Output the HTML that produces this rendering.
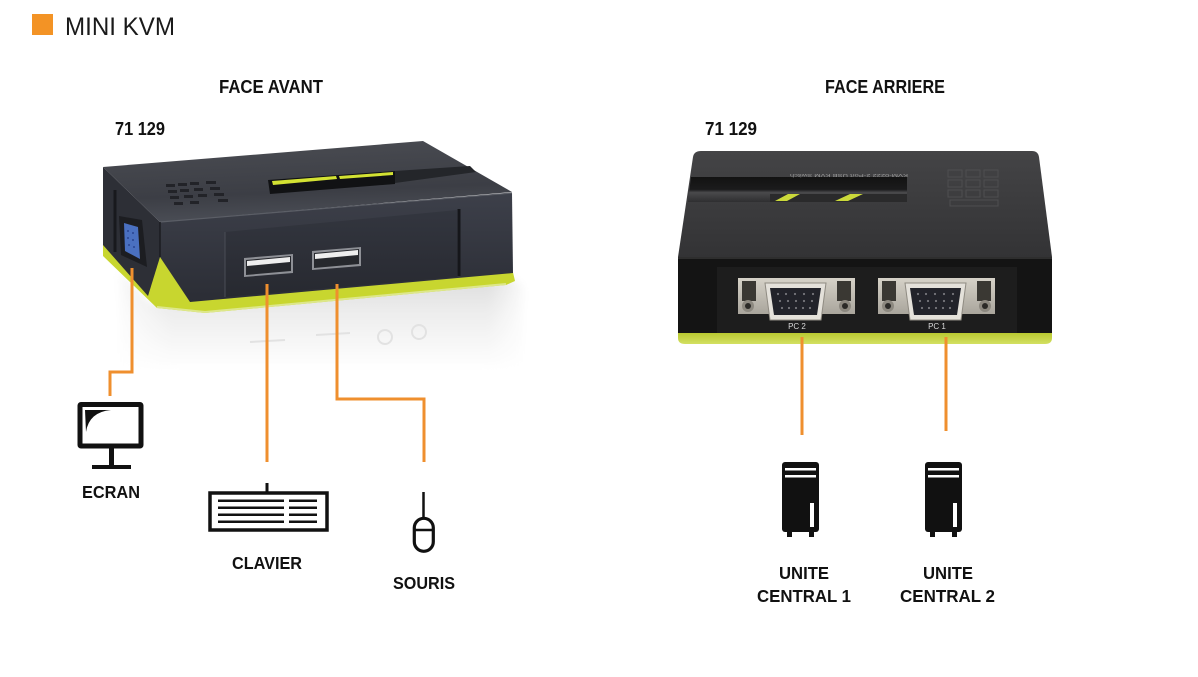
<!DOCTYPE html>
<html><head><meta charset="utf-8">
<style>
html,body{margin:0;padding:0;background:#fff;}
svg{display:block;}
text{font-family:"Liberation Sans",sans-serif;}
</style></head><body>
<svg width="1198" height="677" viewBox="0 0 1198 677" xmlns="http://www.w3.org/2000/svg">
<defs>
  <linearGradient id="refl" x1="0" y1="0" x2="0" y2="1">
    <stop offset="0" stop-color="#d9d9d9"/>
    <stop offset="0.45" stop-color="#eeeeee"/>
    <stop offset="1" stop-color="#ffffff"/>
  </linearGradient>
  <linearGradient id="reflH" x1="0" y1="0" x2="1" y2="0">
    <stop offset="0" stop-color="#fff" stop-opacity="1"/>
    <stop offset="0.15" stop-color="#fff" stop-opacity="0"/>
    <stop offset="0.9" stop-color="#fff" stop-opacity="0"/>
    <stop offset="1" stop-color="#fff" stop-opacity="1"/>
  </linearGradient>
  <filter id="blur" x="-10%" y="-10%" width="120%" height="120%">
    <feGaussianBlur stdDeviation="4"/>
  </filter>
  <linearGradient id="topL" x1="0" y1="0" x2="0.2" y2="1">
    <stop offset="0" stop-color="#4b4d53"/>
    <stop offset="0.7" stop-color="#3c3e45"/>
    <stop offset="1" stop-color="#4a4d55"/>
  </linearGradient>
  <linearGradient id="frontL" x1="0" y1="0" x2="0" y2="1">
    <stop offset="0" stop-color="#3d404a"/>
    <stop offset="1" stop-color="#2b2d35"/>
  </linearGradient>
  <linearGradient id="panelL" x1="0" y1="0" x2="0" y2="1">
    <stop offset="0" stop-color="#33363f"/>
    <stop offset="1" stop-color="#272930"/>
  </linearGradient>
  <linearGradient id="topR" x1="0" y1="0" x2="0" y2="1">
    <stop offset="0" stop-color="#444446"/>
    <stop offset="1" stop-color="#333335"/>
  </linearGradient>
  <linearGradient id="bandR" x1="0" y1="0" x2="0" y2="1">
    <stop offset="0" stop-color="#121212"/>
    <stop offset="0.5" stop-color="#1b1b1c"/>
    <stop offset="0.62" stop-color="#4a4a4c"/>
    <stop offset="1" stop-color="#2e2e30"/>
  </linearGradient>
  <linearGradient id="plate" x1="0" y1="0" x2="0" y2="1">
    <stop offset="0" stop-color="#d6d2c8"/>
    <stop offset="1" stop-color="#a9a59c"/>
  </linearGradient>
  <linearGradient id="greenR" x1="0" y1="0" x2="0" y2="1">
    <stop offset="0" stop-color="#b9c930"/>
    <stop offset="1" stop-color="#d3e062"/>
  </linearGradient>
</defs>

<rect width="1198" height="677" fill="#fff"/>

<!-- HEADER -->
<rect x="32" y="14" width="21" height="21" fill="#f39325"/>
<text x="65" y="35" font-size="25" textLength="110" lengthAdjust="spacingAndGlyphs" fill="#1a1a1a">MINI KVM</text>

<g font-weight="bold" fill="#111" font-size="18">
  <text x="219" y="93" textLength="104" lengthAdjust="spacingAndGlyphs">FACE AVANT</text>
  <text x="825" y="93" textLength="120" lengthAdjust="spacingAndGlyphs">FACE ARRIERE</text>
  <text x="115" y="135" textLength="50" lengthAdjust="spacingAndGlyphs">71 129</text>
  <text x="705" y="135" textLength="52" lengthAdjust="spacingAndGlyphs">71 129</text>
</g>

<!-- LEFT DEVICE -->
<g filter="url(#blur)">
  <polygon points="120,270 150,303 512,279 524,286 524,370 120,370" fill="url(#refl)"/>
  <rect x="110" y="260" width="420" height="115" fill="url(#reflH)"/>
</g>
<g fill="none" stroke="#e2e2e2" stroke-width="2">
  <circle cx="385" cy="337" r="7"/>
  <circle cx="419" cy="332" r="7"/>
  <line x1="250" y1="342" x2="285" y2="340"/>
  <line x1="316" y1="335" x2="350" y2="333"/>
</g>
<polygon fill="#c8d62f" points="103,240 160,250 512,268 515,281 506,285 205,313 157,308 103,256"/>
<polyline points="157,307 205,312 506,284" fill="none" stroke="#dde78a" stroke-width="2"/>
<!-- side face -->
<polygon fill="#2d2f36" points="103,167 160,222 160,257 148,296 103,245"/>
<line x1="115" y1="190" x2="115" y2="252" stroke="#18191d" stroke-width="3"/>
<!-- VGA on side -->
<polygon fill="#1c1d21" points="119,216 142,220 147,267 121,255"/>
<polygon fill="#4a70c0" points="124,223 138,227 140,259 125,251"/>
<g fill="#2a4590">
  <circle cx="128" cy="231" r="1"/><circle cx="133" cy="233" r="1"/>
  <circle cx="128" cy="238" r="1"/><circle cx="133" cy="240" r="1"/>
  <circle cx="129" cy="245" r="1"/><circle cx="134" cy="247" r="1"/>
</g>
<!-- front face -->
<polygon fill="url(#frontL)" points="160,222 512,193 513,273 190,302 160,257"/>
<!-- top face -->
<polygon fill="url(#topL)" points="103,167 423,141 512,192 160,222"/>
<line x1="160" y1="222" x2="512" y2="193" stroke="#5b5e66" stroke-width="1.2"/>
<line x1="160" y1="222" x2="160" y2="257" stroke="#1b1c20" stroke-width="1.5"/>
<!-- recessed panel -->
<polygon fill="url(#panelL)" points="225,232 457,210 457,277 225,297"/>
<line x1="225" y1="232" x2="225" y2="297" stroke="#4a4d56" stroke-width="1"/>
<line x1="459" y1="209" x2="459" y2="276" stroke="#15161a" stroke-width="3"/>
<!-- USB ports -->
<g>
  <polygon fill="#8e9096" points="244,258 293,254 293,273 244,277"/>
  <polygon fill="#26282d" points="246,260 291,256 291,271 246,275"/>
  <polygon fill="#eeeeee" points="247,261 290,257 290,262 247,266"/>
  <polygon fill="#8e9096" points="312,251 361,247 361,266 312,270"/>
  <polygon fill="#26282d" points="314,253 359,249 359,264 314,268"/>
  <polygon fill="#eeeeee" points="315,254 358,250 358,255 315,259"/>
</g>
<!-- top slot -->
<polygon fill="#111214" points="268,180 395,171 395,184 270,194"/>
<polygon fill="#d3e233" points="272,181 336,176 337,179 273,185"/>
<polygon fill="#d3e233" points="339,176 393,172 393,175 340,179"/>
<polygon fill="#24262a" points="395,171 470,166 476,172 395,183"/>
<!-- grille -->
<g fill="#222328">
  <rect x="166" y="184" width="9" height="3"/><rect x="178" y="183" width="9" height="3"/><rect x="190" y="182" width="9" height="3"/><rect x="206" y="181" width="10" height="3"/>
  <rect x="168" y="190" width="9" height="3"/><rect x="180" y="189" width="9" height="3"/><rect x="194" y="188" width="9" height="3"/><rect x="210" y="187" width="10" height="3"/>
  <rect x="170" y="196" width="9" height="3"/><rect x="184" y="195" width="9" height="3"/><rect x="198" y="194" width="9" height="3"/><rect x="214" y="193" width="10" height="3"/>
  <rect x="174" y="202" width="9" height="3"/><rect x="190" y="201" width="9" height="3"/><rect x="218" y="199" width="10" height="3"/>
</g>

<!-- RIGHT DEVICE -->
<path fill="url(#topR)" d="M701,151 H1032 Q1038,151 1039,157 L1052,257 H678 L693,157 Q694,151 701,151 Z"/>
<polygon fill="url(#bandR)" points="691,177 907,177 907,202 688,202"/>
<polygon fill="#2a2a2b" points="770,194 907,194 907,202 770,202"/>
<polygon fill="#cbd93a" points="775,201 788,194 800,194 787,201"/>
<polygon fill="#cbd93a" points="835,201 850,194 863,194 848,201"/>
<text transform="translate(908,174) rotate(180)" font-size="4.5" fill="#9a9a9a" textLength="118" lengthAdjust="spacingAndGlyphs">KVM-0222 2-Port USB KVM Switch</text>
<g fill="none" stroke="#4e4e50" stroke-width="1">
  <rect x="948" y="170" width="14" height="7"/><rect x="966" y="170" width="14" height="7"/><rect x="984" y="170" width="14" height="7"/>
  <rect x="948" y="180" width="14" height="7"/><rect x="966" y="180" width="14" height="7"/><rect x="984" y="180" width="14" height="7"/>
  <rect x="948" y="190" width="14" height="7"/><rect x="966" y="190" width="14" height="7"/><rect x="984" y="190" width="14" height="7"/>
  <rect x="950" y="200" width="48" height="6"/>
</g>
<!-- front face -->
<rect x="678" y="257" width="374" height="78" fill="#141414"/>
<line x1="678" y1="258" x2="1052" y2="258" stroke="#2e2e2e" stroke-width="2"/>
<rect x="717" y="267" width="300" height="67" fill="#1d1d1d"/>
<!-- green base -->
<path fill="url(#greenR)" d="M678,333 H1052 V338 Q1052,344 1045,344 H685 Q678,344 678,338 Z"/>
<!-- VGA ports -->
<g>
  <rect x="738" y="278" width="117" height="36" fill="url(#plate)"/>
  <rect x="742" y="281" width="14" height="20" fill="#3a3833"/>
  <rect x="837" y="281" width="14" height="20" fill="#3a3833"/>
  <circle cx="748" cy="306" r="6" fill="#8c887f"/><circle cx="748" cy="306" r="3" fill="#2b2a27"/>
  <circle cx="845" cy="306" r="6" fill="#8c887f"/><circle cx="845" cy="306" r="3" fill="#2b2a27"/>
  <path d="M765,283 H826 L821,320 H770 Z" fill="#e4e1da" stroke="#8f8b82" stroke-width="1"/>
  <path d="M770,288 H821 L817,315 H774 Z" fill="#22232a"/>
  <g fill="#77777c">
    <circle cx="778" cy="294" r="1.1"/><circle cx="786" cy="294" r="1.1"/><circle cx="795" cy="294" r="1.1"/><circle cx="804" cy="294" r="1.1"/><circle cx="813" cy="294" r="1.1"/>
    <circle cx="780" cy="301" r="1.1"/><circle cx="788" cy="301" r="1.1"/><circle cx="796" cy="301" r="1.1"/><circle cx="804" cy="301" r="1.1"/><circle cx="812" cy="301" r="1.1"/>
    <circle cx="782" cy="308" r="1.1"/><circle cx="789" cy="308" r="1.1"/><circle cx="796" cy="308" r="1.1"/><circle cx="803" cy="308" r="1.1"/><circle cx="810" cy="308" r="1.1"/>
  </g>
  <text x="797" y="329" font-size="8" fill="#d8d8d8" text-anchor="middle">PC 2</text>
</g>
<g transform="translate(140,0)">
  <rect x="738" y="278" width="117" height="36" fill="url(#plate)"/>
  <rect x="742" y="281" width="14" height="20" fill="#3a3833"/>
  <rect x="837" y="281" width="14" height="20" fill="#3a3833"/>
  <circle cx="748" cy="306" r="6" fill="#8c887f"/><circle cx="748" cy="306" r="3" fill="#2b2a27"/>
  <circle cx="845" cy="306" r="6" fill="#8c887f"/><circle cx="845" cy="306" r="3" fill="#2b2a27"/>
  <path d="M765,283 H826 L821,320 H770 Z" fill="#e4e1da" stroke="#8f8b82" stroke-width="1"/>
  <path d="M770,288 H821 L817,315 H774 Z" fill="#22232a"/>
  <g fill="#77777c">
    <circle cx="778" cy="294" r="1.1"/><circle cx="786" cy="294" r="1.1"/><circle cx="795" cy="294" r="1.1"/><circle cx="804" cy="294" r="1.1"/><circle cx="813" cy="294" r="1.1"/>
    <circle cx="780" cy="301" r="1.1"/><circle cx="788" cy="301" r="1.1"/><circle cx="796" cy="301" r="1.1"/><circle cx="804" cy="301" r="1.1"/><circle cx="812" cy="301" r="1.1"/>
    <circle cx="782" cy="308" r="1.1"/><circle cx="789" cy="308" r="1.1"/><circle cx="796" cy="308" r="1.1"/><circle cx="803" cy="308" r="1.1"/><circle cx="810" cy="308" r="1.1"/>
  </g>
  <text x="797" y="329" font-size="8" fill="#d8d8d8" text-anchor="middle">PC 1</text>
</g>

<!-- CONNECTORS -->
<g fill="none" stroke="#ef8f2e" stroke-width="3">
  <polyline points="132,268 132,372 110,372 110,396"/>
  <line x1="267" y1="284" x2="267" y2="462"/>
  <polyline points="337,284 337,399 424,399 424,462"/>
  <line x1="802" y1="337" x2="802" y2="435"/>
  <line x1="946" y1="337" x2="946" y2="431"/>
</g>

<!-- ICONS -->
<!-- monitor -->
<rect x="80" y="404.5" width="61" height="41.5" fill="#fff" stroke="#111" stroke-width="5" rx="1"/>
<path d="M85,410 H111 Q89,412 86,432 Z" fill="#111"/>
<rect x="109" y="448" width="5" height="17" fill="#111"/>
<rect x="92" y="465" width="39" height="4" fill="#111"/>
<!-- keyboard -->
<line x1="267" y1="483" x2="267" y2="492" stroke="#111" stroke-width="3"/>
<rect x="210" y="493" width="117" height="37" fill="#fff" stroke="#111" stroke-width="3.5"/>
<g fill="#111">
  <rect x="218" y="499.5" width="66" height="2.5"/><rect x="289" y="499.5" width="28" height="2.5"/>
  <rect x="218" y="506.5" width="66" height="2.5"/><rect x="289" y="506.5" width="28" height="2.5"/>
  <rect x="218" y="513.5" width="66" height="2.5"/><rect x="289" y="513.5" width="28" height="2.5"/>
  <rect x="218" y="520.5" width="66" height="2.5"/><rect x="289" y="520.5" width="28" height="2.5"/>
</g>
<!-- mouse -->
<g fill="none" stroke="#111">
  <line x1="423.5" y1="492" x2="423.5" y2="518" stroke-width="2.5"/>
  <rect x="414.3" y="518.3" width="19" height="33" rx="9.5" stroke-width="3.2"/>
  <line x1="414" y1="530" x2="433" y2="530" stroke-width="2.5"/>
</g>
<!-- towers -->
<g>
  <rect x="782" y="462" width="37" height="70" rx="3" fill="#111"/>
  <rect x="787" y="530" width="5" height="7" fill="#111"/>
  <rect x="809" y="530" width="5" height="7" fill="#111"/>
  <rect x="785" y="468" width="31" height="2.5" fill="#fff"/>
  <rect x="785" y="475" width="31" height="2.5" fill="#fff"/>
  <rect x="810" y="503" width="4" height="24" fill="#fff"/>
</g>
<g transform="translate(143,0)">
  <rect x="782" y="462" width="37" height="70" rx="3" fill="#111"/>
  <rect x="787" y="530" width="5" height="7" fill="#111"/>
  <rect x="809" y="530" width="5" height="7" fill="#111"/>
  <rect x="785" y="468" width="31" height="2.5" fill="#fff"/>
  <rect x="785" y="475" width="31" height="2.5" fill="#fff"/>
  <rect x="810" y="503" width="4" height="24" fill="#fff"/>
</g>

<!-- LABELS -->
<g font-weight="bold" fill="#111" font-size="17.5">
  <text x="82" y="498" textLength="58" lengthAdjust="spacingAndGlyphs">ECRAN</text>
  <text x="232" y="569" textLength="70" lengthAdjust="spacingAndGlyphs">CLAVIER</text>
  <text x="393" y="589" textLength="62" lengthAdjust="spacingAndGlyphs">SOURIS</text>
  <text x="779" y="579" textLength="50" lengthAdjust="spacingAndGlyphs">UNITE</text>
  <text x="757" y="602" textLength="94" lengthAdjust="spacingAndGlyphs">CENTRAL 1</text>
  <text x="923" y="579" textLength="50" lengthAdjust="spacingAndGlyphs">UNITE</text>
  <text x="900" y="602" textLength="95" lengthAdjust="spacingAndGlyphs">CENTRAL 2</text>
</g>
</svg>
</body></html>
